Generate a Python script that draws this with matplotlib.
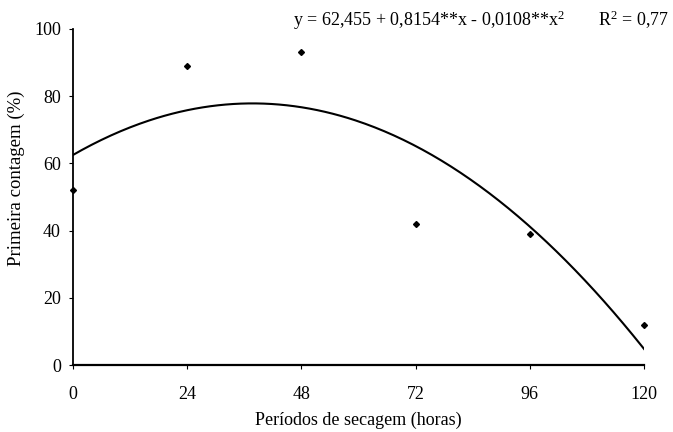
import numpy as np
import matplotlib
matplotlib.use('Agg')
import matplotlib.pyplot as plt

plt.rcParams['font.family'] = 'Liberation Serif'
plt.rcParams['mathtext.fontset'] = 'custom'
plt.rcParams['mathtext.rm'] = 'Liberation Serif'
plt.rcParams['mathtext.it'] = 'Liberation Serif'

# drying periods (hours) and first-count germination (%)
horas = [0, 24, 48, 72, 96, 120]
contagem = [52, 89, 93, 42, 39, 12]

# fitted quadratic coefficients
b0, b1, b2 = 62.455, 0.8154, -0.0108

fig = plt.figure(figsize=(6.73, 4.32), dpi=100)
ax = fig.add_axes([0.108, 0.155, 0.849, 0.778])

xs = np.linspace(0, 120, 300)
ax.plot(xs, b0 + b1 * xs + b2 * xs ** 2, color='black', lw=1.5)
ax.plot(horas, contagem, linestyle='none', marker='D', markersize=3,
        color='black', clip_on=False)

ax.set_xlim(0, 120)
ax.set_ylim(0, 100)
ax.set_xticks(horas)
ax.set_yticks(range(0, 101, 20))
ax.spines['top'].set_visible(False)
ax.spines['right'].set_visible(False)
ax.spines['left'].set_linewidth(1.3)
ax.spines['bottom'].set_linewidth(1.6)
ax.tick_params(direction='out', length=3, width=0.8, labelsize=13)
ax.tick_params(axis='x', pad=12)
ax.tick_params(axis='y', pad=5.5)

ax.set_xlabel('Períodos de secagem (horas)', fontsize=13, labelpad=6)
ax.set_ylabel('Primeira contagem (%)', fontsize=13.5, labelpad=6)
ax.yaxis.set_label_coords(-0.083, 0.556)

fig.text(0.435, 0.953, 'y = 62,455 + 0,8154**x - 0,0108**x$^2$',
         fontsize=13, ha='left', va='center')
fig.text(0.888, 0.953, 'R$^2$ = 0,77', fontsize=13, ha='left', va='center')

fig.savefig('out.png', dpi=100)
